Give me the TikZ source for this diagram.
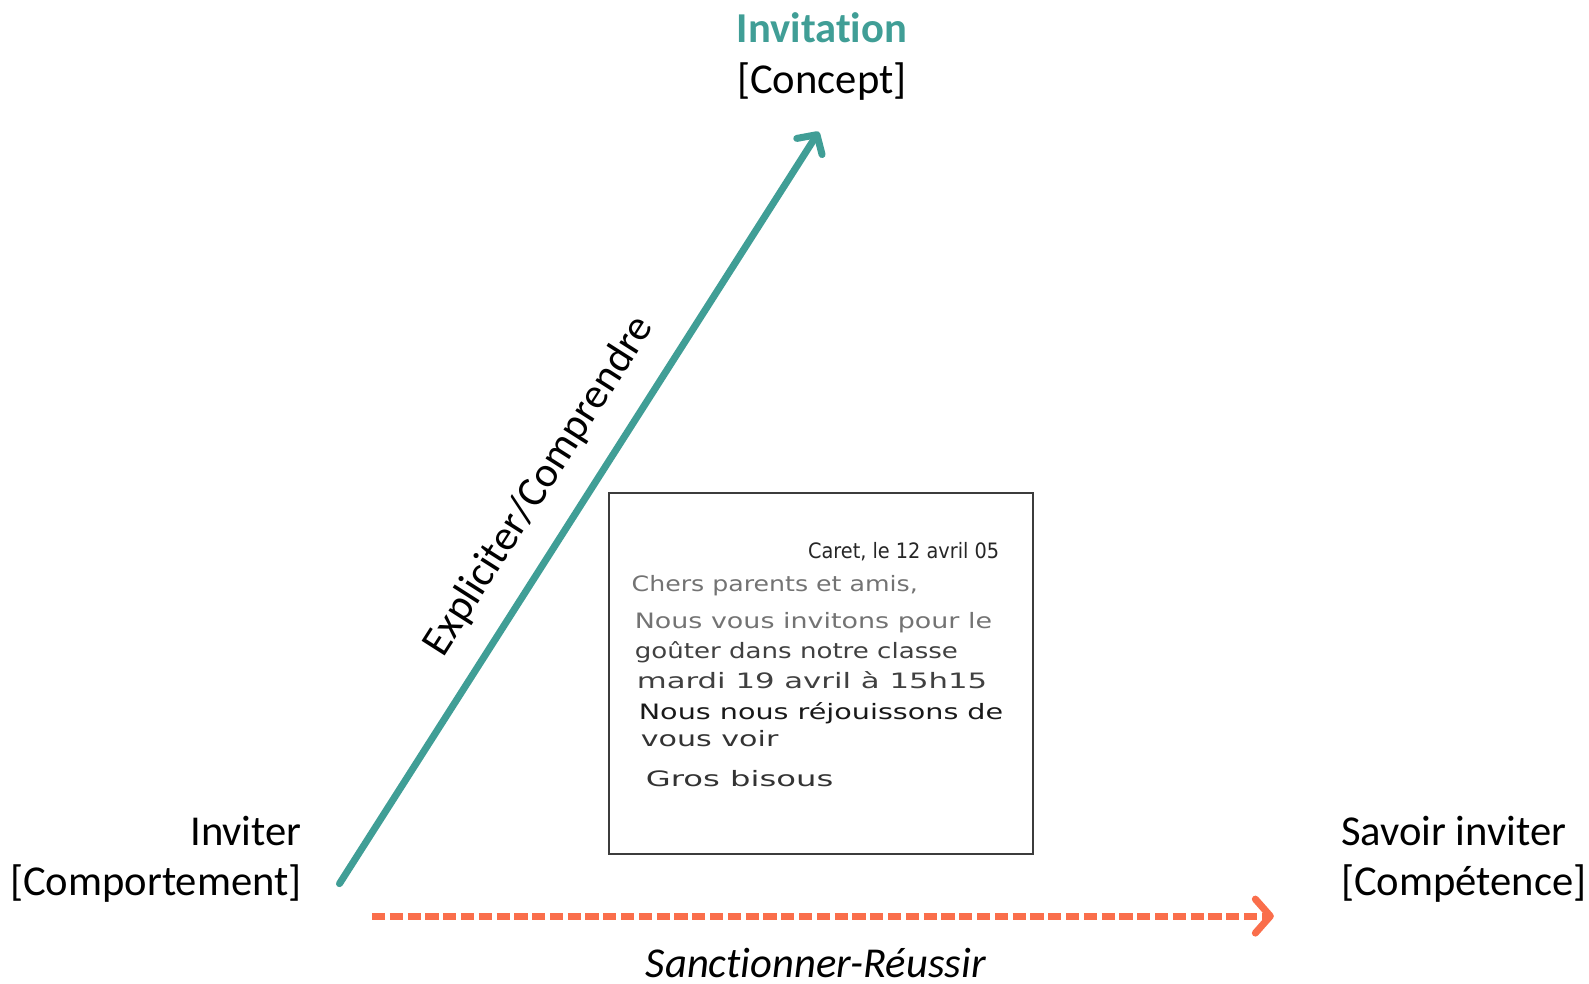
\documentclass[tikz,border=0pt]{standalone}
\usepackage{fontspec}
\usepackage{graphicx}
\setmainfont{Carlito}[Ligatures=NoCommon]
\newfontfamily\handfont{DejaVu Sans}
\usetikzlibrary{arrows.meta}
\definecolor{tealc}{RGB}{64,158,150}
\definecolor{orangec}{RGB}{250,110,75}
\definecolor{framec}{RGB}{60,60,60}
\newcommand{\hs}[2]{\scalebox{#1}[1]{#2}}
\begin{document}
\begin{tikzpicture}[x=0.50675pt,y=-0.50675pt,
  lbl/.style={inner sep=0pt, font=\fontsize{21.3}{25}\selectfont},
  hand/.style={inner sep=0pt, anchor=base west, font=\handfont\fontsize{10.6}{12}\selectfont, text=black!70},
  tealarrow/.style={draw=tealc, line width=3.5pt, line cap=round,
    -{Straight Barb[length=7pt,width=15pt,round]}},
  orangearrow/.style={draw=orangec, line width=3.5pt,
    dash pattern=on 6.6pt off 2.3pt,
    -{Straight Barb[length=7.5pt,width=17pt,round]}}]
\useasboundingbox (0,0) rectangle (1568,971);

% titles
\node[lbl, anchor=base, text=tealc, font=\fontsize{21.3}{25}\selectfont\bfseries] (invitation) at (811,42) {Invitation};
\node[lbl, anchor=base] (concept) at (811,92) {[Concept]};
\node[lbl, anchor=base east] (inviter) at (298,834) {Inviter};
\node[lbl, anchor=base east] (comportement) at (298,884) {[Comportement]};
\node[lbl, anchor=base west] (savoir) at (1323,834) {Savoir inviter};
\node[lbl, anchor=base west] (competence) at (1323,884) {[Compétence]};

% connectors
\coordinate (tstart) at (335,872);
\coordinate (tend) at (808,130);
\draw[tealarrow] (tstart) -- (tend);
\node[lbl, rotate=57.5] (expl) at (532,480) {Expliciter/Comprendre};

\coordinate (ostart) at (367,904);
\coordinate (oend) at (1257,904);
\draw[orangearrow] (ostart) -- (oend);
\node[lbl, anchor=base, font=\fontsize{21.3}{25}\selectfont\itshape] (sanct) at (805,965) {Sanctionner-Réussir};

% letter
\node[draw=framec, line width=1pt, minimum width=211.8pt, minimum height=180.9pt, inner sep=0pt] (letter) at (810,664.5) {};
\node[hand, text=black!85] (l1) at (797,551) {\hs{0.91}{Caret, le 12 avril 05}};
\node[hand, text=black!55] (l2) at (623,584) {\hs{1.19}{Chers parents et amis,}};
\node[hand, text=black!55] (l3) at (626,620) {\hs{1.27}{Nous vous invitons pour le}};
\node[hand, text=black!75] (l4) at (626,650) {\hs{1.23}{goûter dans notre classe}};
\node[hand, text=black!75] (l5) at (628,679) {\hs{1.45}{mardi 19 avril à 15h15}};
\node[hand, text=black!90] (l6) at (630,710) {\hs{1.35}{Nous nous réjouissons de}};
\node[hand, text=black!80] (l7) at (632,737) {\hs{1.42}{vous voir}};
\node[hand, text=black!80] (l8) at (637,776) {\hs{1.52}{Gros bisous}};
\end{tikzpicture}
\end{document}
